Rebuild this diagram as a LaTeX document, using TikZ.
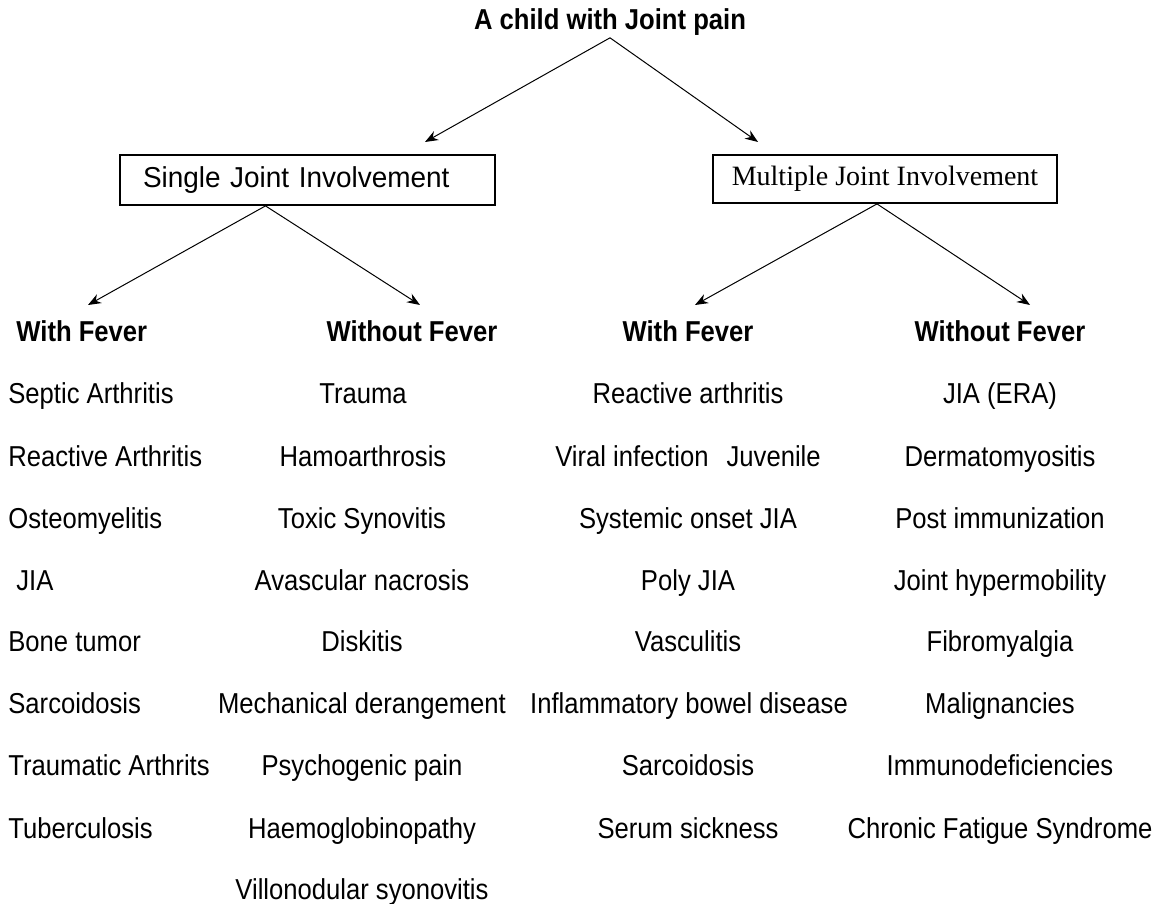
\documentclass[tikz,border=0pt]{standalone}
\usepackage{fontspec}
\setmainfont{Liberation Sans}[FakeStretch=0.89]
\newfontfamily\boxsans{Liberation Sans}[FakeStretch=0.97]
\newfontfamily\boxserif{Liberation Serif}
\usetikzlibrary{arrows.meta}

\begin{document}
\begin{tikzpicture}[
            x=0.5pt, y=-0.5pt,
            >={Stealth[length=6.5pt,width=5pt]},
            topic/.style={font=\fontsize{14.4}{17}\selectfont\bfseries, inner sep=1pt},
            groupbox/.style={draw, line width=0.9pt, minimum height=25pt, inner ysep=0pt},
            head/.style={font=\fontsize{14.4}{17}\selectfont\bfseries, inner sep=1pt, text height=13.5pt, text depth=3pt},
            item/.style={font=\fontsize{14.4}{17}\selectfont, inner sep=1pt, text height=13.5pt, text depth=3pt},
            link/.style={->, line width=0.5pt}
        ]
            \useasboundingbox (0,0) rectangle (1158,904);

            \node[topic] (title) at (610,22) {A child with Joint pain};

            \node[groupbox, font=\fontsize{14.4}{17}\boxsans, text width=164.5pt, inner xsep=11.5pt, align=left] (single) at (307.5,180) {Single Joint Involvement};
            \node[groupbox, font=\fontsize{14}{16}\boxserif, minimum width=172pt, minimum height=24pt] (multi) at (885,179) {Multiple Joint Involvement};

            \node[head, anchor=west] (hsw) at (14,331) {With Fever};
            \node[head] (hsn) at (412,331) {Without Fever};
            \node[head] (hmw) at (688,331) {With Fever};
            \node[head] (hmn) at (1000,331) {Without Fever};

            % single joint, with fever
            \node[item, anchor=west] (sa1) at (6,393) {Septic Arthritis};
            \node[item, anchor=west] (sa2) at (6,456) {Reactive Arthritis};
            \node[item, anchor=west] (sa3) at (6,518) {Osteomyelitis};
            \node[item, anchor=west] (sa4) at (14,580) {JIA};
            \node[item, anchor=west] (sa5) at (6,641) {Bone tumor};
            \node[item, anchor=west] (sa6) at (6,703) {Sarcoidosis};
            \node[item, anchor=west] (sa7) at (6,765) {Traumatic Arthrits};
            \node[item, anchor=west] (sa8) at (6,828) {Tuberculosis};

            % single joint, without fever
            \node[item] (sb1) at (363,393) {Trauma};
            \node[item] (sb2) at (363,456) {Hamoarthrosis};
            \node[item] (sb3) at (362,518) {Toxic Synovitis};
            \node[item] (sb4) at (362,580) {Avascular nacrosis};
            \node[item] (sb5) at (362,641) {Diskitis};
            \node[item] (sb6) at (362,703) {Mechanical derangement};
            \node[item] (sb7) at (362,765) {Psychogenic pain};
            \node[item] (sb8) at (362,828) {Haemoglobinopathy};
            \node[item] (sb9) at (362,889) {Villonodular syonovitis};

            % multiple joint, with fever
            \node[item] (ma1) at (688,393) {Reactive arthritis};
            \node[item] (ma2) at (688,456) {Viral infection\hspace{9pt}Juvenile};
            \node[item] (ma3) at (688,518) {Systemic onset JIA};
            \node[item] (ma4) at (688,580) {Poly JIA};
            \node[item] (ma5) at (688,641) {Vasculitis};
            \node[item] (ma6) at (689,703) {Inflammatory bowel disease};
            \node[item] (ma7) at (688,765) {Sarcoidosis};
            \node[item] (ma8) at (688,828) {Serum sickness};

            % multiple joint, without fever
            \node[item] (mb1) at (1000,393) {JIA (ERA)};
            \node[item] (mb2) at (1000,456) {Dermatomyositis};
            \node[item] (mb3) at (1000,518) {Post immunization};
            \node[item] (mb4) at (1000,580) {Joint hypermobility};
            \node[item] (mb5) at (1000,641) {Fibromyalgia};
            \node[item] (mb6) at (1000,703) {Malignancies};
            \node[item] (mb7) at (1000,765) {Immunodeficiencies};
            \node[item] (mb8) at (1000,828) {Chronic Fatigue Syndrome};

            \coordinate (ts) at (425,142);
            \coordinate (tm) at (758,142);
            \coordinate (ssw) at (88,305);
            \coordinate (ssn) at (420,305);
            \coordinate (smw) at (695,305);
            \coordinate (smn) at (1030,305);

            \draw[link] (title.south) -- (ts);
            \draw[link] (title.south) -- (tm);
            \draw[link] ([xshift=-21pt]single.south) -- (ssw);
            \draw[link] ([xshift=-21pt]single.south) -- (ssn);
            \draw[link] ([xshift=-4pt]multi.south) -- (smw);
            \draw[link] ([xshift=-4pt]multi.south) -- (smn);
        \end{tikzpicture}
\end{document}
